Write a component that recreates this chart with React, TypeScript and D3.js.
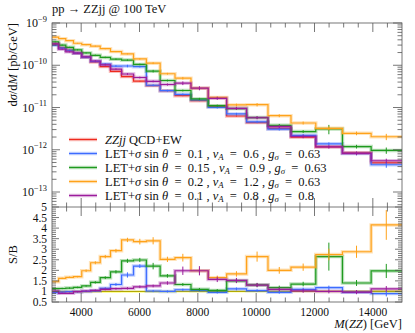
import { useRef, useEffect } from 'react';
import * as d3 from 'd3';

// bin edges in M(ZZ) [GeV] (log-spaced binning)
const binEdges = [3000, 3228, 3473, 3736, 4020, 4325, 4653, 5006, 5386, 5795, 6235, 6708,
  7217, 7765, 8355, 8989, 9671, 10405, 11194, 12044, 12958, 13942, 15000];

// ZZjj QCD+EW background, dsigma/dM [pb/GeV]
const qcdEw = [3.16e-10, 2.63e-10, 2.29e-10, 1.95e-10, 1.55e-10, 1.20e-10, 9.3e-11, 7.2e-11,
  5.4e-11, 4.2e-11, 3.3e-11, 2.5e-11, 1.9e-11, 1.45e-11, 1.05e-11, 6.3e-12, 4.4e-12, 3.2e-12,
  2.0e-12, 1.17e-12, 8.5e-13, 4.9e-13];

// S/B ratios per bin
const ratioBlue = [0.94, 0.97, 0.99, 0.99, 1.0, 1.03, 1.15, 1.33, 1.78, 2.2, 1.02, 1.0,
  1.08, 1.05, 0.96, 1.12, 1.04, 0.96, 1.1, 1.18, 0.96, 0.9];
const ratioGreen = [1.13, 1.14, 1.16, 1.19, 1.26, 1.43, 1.65, 1.93, 2.45, 2.49, 2.2, 1.74,
  1.33, 1.1, 1.05, 1.5, 1.31, 1.18, 1.35, 2.65, 1.4, 1.97];
const ratioOrange = [1.46, 1.62, 1.67, 1.7, 1.98, 2.36, 2.65, 2.93, 3.44, 3.36, 3.4, 2.52,
  2.6, 1.98, 1.65, 1.83, 2.65, 2.0, 2.15, 2.75, 2.88, 4.15];
const ratioPurple = [1.02, 0.91, 0.91, 0.99, 1.02, 1.05, 1.1, 1.13, 1.15, 1.22, 1.26, 1.4,
  1.98, 1.98, 1.57, 1.52, 1.3, 1.1, 1.03, 1.0, 0.97, 1.12];

// relative statistical uncertainties
const errRed = [0.01, 0.01, 0.01, 0.01, 0.015, 0.015, 0.015, 0.015, 0.02, 0.02, 0.02, 0.02,
  0.025, 0.025, 0.03, 0.03, 0.03, 0.035, 0.035, 0.04, 0.045, 0.05];
const errBlue = [0.03, 0.03, 0.03, 0.03, 0.03, 0.04, 0.04, 0.05, 0.07, 0.04, 0.05, 0.05,
  0.05, 0.05, 0.06, 0.06, 0.06, 0.07, 0.07, 0.08, 0.09, 0.15];
const errGreen = [0.03, 0.03, 0.03, 0.03, 0.03, 0.04, 0.04, 0.04, 0.04, 0.04, 0.07, 0.05,
  0.05, 0.06, 0.06, 0.07, 0.07, 0.08, 0.08, 0.25, 0.1, 0.17];
const errOrange = [0.02, 0.02, 0.02, 0.02, 0.03, 0.03, 0.03, 0.03, 0.03, 0.04, 0.05, 0.05,
  0.07, 0.06, 0.06, 0.07, 0.09, 0.08, 0.08, 0.1, 0.1, 0.17];
const errPurple = [0.03, 0.03, 0.03, 0.03, 0.03, 0.04, 0.04, 0.04, 0.05, 0.05, 0.05, 0.06,
  0.1, 0.11, 0.08, 0.08, 0.08, 0.08, 0.09, 0.09, 0.1, 0.12];

const xMajorTicks = [4000, 6000, 8000, 10000, 12000, 14000];
const ratioTickLabels = ['0.5', '1', '1.5', '2', '2.5', '3', '3.5', '4', '4.5', '5'];

type Seg = { t: string; it?: boolean; sub?: boolean; sup?: boolean };

// math-style spacing around "=" like the TeX legend
const EQ = '\u2002=\u2002';
const letLabel = (s: string, v: string, g: string): Seg[] => [
  { t: 'LET+' }, { t: 'σ', it: true }, { t: ' sin ' }, { t: 'θ', it: true }, { t: `${EQ}${s} , ` },
  { t: 'v', it: true }, { t: 'A', it: true, sub: true }, { t: `${EQ}${v} , ` },
  { t: 'g', it: true }, { t: 'σ', it: true, sub: true }, { t: `${EQ}${g}` },
];

const series = [
  { color: '#ee2a1e', ratio: qcdEw.map(() => 1), err: errRed, label: [{ t: 'ZZjj', it: true }, { t: ' QCD+EW' }] as Seg[] },
  { color: '#3d6cff', ratio: ratioBlue, err: errBlue, label: letLabel('0.1', '0.6', '0.63') },
  { color: '#1f9a1f', ratio: ratioGreen, err: errGreen, label: letLabel('0.15', '0.9', '0.63') },
  { color: '#ffa21a', ratio: ratioOrange, err: errOrange, label: letLabel('0.2', '1.2', '0.63') },
  { color: '#9c1c9c', ratio: ratioPurple, err: errPurple, label: letLabel('0.1', '0.8', '0.8') },
];

const FONT = '"Liberation Serif", "DejaVu Serif", serif';

function richText(g: any, x: number, y: number, segs: Seg[], size: number, anchor = 'start') {
  const t = g.append('text').attr('x', x).attr('y', y).attr('font-size', size)
    .attr('font-family', FONT).attr('text-anchor', anchor).attr('fill', '#111');
  let shift = 0;
  segs.forEach(s => {
    const sp = t.append('tspan').text(s.t);
    if (s.it) sp.attr('font-style', 'italic');
    const target = s.sub ? size * 0.22 : s.sup ? -size * 0.45 : 0;
    if (target !== shift) { sp.attr('dy', target - shift); shift = target; }
    if (s.sub || s.sup) sp.attr('font-size', size * 0.7);
  });
  return t;
}

export default function App() {
  const svgRef = useRef<SVGSVGElement>(null);

  useEffect(() => {
    const left = 52, right = 402, top = 23, mid = 207, bottom = 302;

    const svg = d3.select(svgRef.current);
    svg.selectAll('*').remove();

    const x = d3.scaleLinear().domain([3000, 15000]).range([left, right]);
    const y = d3.scaleLog().domain([Math.pow(10, -13.355), 1e-9]).range([mid, top]);
    const yr = d3.scaleLinear().domain([0.5, 5]).range([bottom, mid]);

    const defs = svg.append('defs');
    defs.append('clipPath').attr('id', 'clipMain').append('rect')
      .attr('x', left).attr('y', top).attr('width', right - left).attr('height', mid - top);
    defs.append('clipPath').attr('id', 'clipRatio').append('rect')
      .attr('x', left).attr('y', mid).attr('width', right - left).attr('height', bottom - mid);

    const n = qcdEw.length;
    const centers = d3.range(n).map(i => Math.sqrt(binEdges[i] * binEdges[i + 1]));

    const stepPath = (vals: number[], ys: (v: number) => number) =>
      d3.line<number>()
        .x((_, i) => x(binEdges[i]))
        .y((_, i) => ys(vals[Math.min(i, n - 1)]))
        .curve(d3.curveStepAfter)(binEdges) as string;

    // main panel
    const gMain = svg.append('g').attr('clip-path', 'url(#clipMain)');
    series.forEach(s => {
      const vals = qcdEw.map((b, i) => b * s.ratio[i]);
      const p = stepPath(vals, y);
      gMain.append('path').attr('d', p).attr('fill', 'none').attr('stroke', s.color)
        .attr('stroke-width', 3.5).attr('stroke-opacity', 0.3);
      gMain.append('path').attr('d', p).attr('fill', 'none').attr('stroke', s.color)
        .attr('stroke-width', 1.2);
      gMain.append('g').selectAll('line').data(vals).join('line')
        .attr('x1', (_, i) => x(centers[i])).attr('x2', (_, i) => x(centers[i]))
        .attr('y1', (v, i) => y(v * (1 - s.err[i]))).attr('y2', (v, i) => y(v * (1 + s.err[i])))
        .attr('stroke', s.color).attr('stroke-width', 1);
    });

    // ratio panel
    const gRatio = svg.append('g').attr('clip-path', 'url(#clipRatio)');
    gRatio.append('g').selectAll('rect').data(errRed).join('rect')
      .attr('x', (_, i) => x(binEdges[i])).attr('width', (_, i) => x(binEdges[i + 1]) - x(binEdges[i]))
      .attr('y', e => yr(1 + e)).attr('height', e => Math.max(1.5, yr(1 - e) - yr(1 + e)))
      .attr('fill', '#ffff33').attr('opacity', 0.8);
    gRatio.append('path').attr('d', stepPath(qcdEw.map(() => 1), yr)).attr('fill', 'none')
      .attr('stroke', '#b3aa00').attr('stroke-width', 1.2);
    series.slice(1).forEach(s => {
      const p = stepPath(s.ratio, yr);
      gRatio.append('path').attr('d', p).attr('fill', 'none').attr('stroke', s.color)
        .attr('stroke-width', 3.5).attr('stroke-opacity', 0.3);
      gRatio.append('path').attr('d', p).attr('fill', 'none').attr('stroke', s.color)
        .attr('stroke-width', 1.2);
      gRatio.append('g').selectAll('line').data(s.ratio).join('line')
        .attr('x1', (_, i) => x(centers[i])).attr('x2', (_, i) => x(centers[i]))
        .attr('y1', (v, i) => yr(v * (1 - s.err[i]))).attr('y2', (v, i) => yr(v * (1 + s.err[i])))
        .attr('stroke', s.color).attr('stroke-width', 1);
    });

    // frames and ticks
    const axes = svg.append('g').attr('stroke', '#555').attr('stroke-width', 0.8);
    const xMinor = d3.range(3500, 15000, 500).filter(v => !xMajorTicks.includes(v));
    const tick = (x1: number, y1: number, x2: number, y2: number) =>
      axes.append('line').attr('x1', x1).attr('y1', y1).attr('x2', x2).attr('y2', y2);

    [[top, mid], [mid, bottom]].forEach(([t0, b0]) => {
      xMajorTicks.forEach(v => { tick(x(v), b0, x(v), b0 - 9); tick(x(v), t0, x(v), t0 + 9); });
      xMinor.forEach(v => { tick(x(v), b0, x(v), b0 - 4.5); tick(x(v), t0, x(v), t0 + 4.5); });
    });

    const decades = [-13, -12, -11, -10, -9];
    decades.forEach(d => {
      const v = Math.pow(10, d);
      tick(left, y(v), left + 8, y(v)); tick(right, y(v), right - 9, y(v));
      d3.range(2, 10).forEach(k => {
        const m = k * v;
        if (m < 1e-9 && m > y.domain()[0]) { tick(left, y(m), left + 4.5, y(m)); tick(right, y(m), right - 4.5, y(m)); }
      });
    });
    d3.range(1, 10).forEach(k => {
      const m = Math.pow(10, -14) * k;
      if (m > y.domain()[0]) { tick(left, y(m), left + 4.5, y(m)); tick(right, y(m), right - 4.5, y(m)); }
    });

    d3.range(0.5, 5.01, 0.1).forEach(v => {
      const major = Math.abs(v * 2 - Math.round(v * 2)) < 1e-6;
      const len = major ? 7 : 4;
      tick(left, yr(v), left + len, yr(v)); tick(right, yr(v), right - len, yr(v));
    });

    axes.append('rect').attr('x', left).attr('y', top).attr('width', right - left)
      .attr('height', bottom - top).attr('fill', 'none');
    axes.append('line').attr('x1', left).attr('x2', right).attr('y1', mid).attr('y2', mid);

    // tick labels
    const labels = svg.append('g');
    decades.forEach(d => {
      richText(labels, 47, y(Math.pow(10, d)) + 4, [{ t: '10' }, { t: `−${-d}`, sup: true }], 12, 'end');
    });
    ratioTickLabels.forEach(l => {
      labels.append('text').attr('x', 47).attr('y', yr(+l) + 4).attr('text-anchor', 'end')
        .attr('font-family', FONT).attr('font-size', 11.5).attr('fill', '#111').text(l);
    });
    xMajorTicks.forEach(v => {
      labels.append('text').attr('x', x(v)).attr('y', 316).attr('text-anchor', 'middle')
        .attr('font-family', FONT).attr('font-size', 11.5).attr('fill', '#111').text(String(v));
    });

    // titles
    richText(svg, left, 13, [{ t: 'pp → ZZjj @ 100 TeV' }], 12.5);
    richText(svg, right, 328, [{ t: 'M', it: true }, { t: '(' }, { t: 'ZZ', it: true }, { t: ') [GeV]' }], 12.5, 'end');
    richText(svg, 0, 0, [{ t: 'd' }, { t: 'σ', it: true }, { t: '/d' }, { t: 'M', it: true }, { t: ' [pb/GeV]' }], 12.5, 'end')
      .attr('transform', `translate(17,${top}) rotate(-90)`);
    richText(svg, 0, 0, [{ t: 'S/B' }], 12.5, 'middle')
      .attr('transform', `translate(17,${(mid + bottom) / 2}) rotate(-90)`);

    // legend
    const lg = svg.append('g');
    series.forEach((s, i) => {
      const ly = 139.5 + i * 14;
      lg.append('line').attr('x1', 69).attr('x2', 97).attr('y1', ly).attr('y2', ly)
        .attr('stroke', s.color).attr('stroke-width', 3.5).attr('stroke-opacity', 0.3);
      lg.append('line').attr('x1', 69).attr('x2', 97).attr('y1', ly).attr('y2', ly)
        .attr('stroke', s.color).attr('stroke-width', 1.2);
      richText(lg, 105, ly + 4, s.label, 12.5);
    });
  }, []);

  return (
    <svg
      ref={svgRef}
      width={415}
      height={333}
      style={{ position: 'absolute', left: 0, top: 0, background: '#fff' }}
    />
  );
}
